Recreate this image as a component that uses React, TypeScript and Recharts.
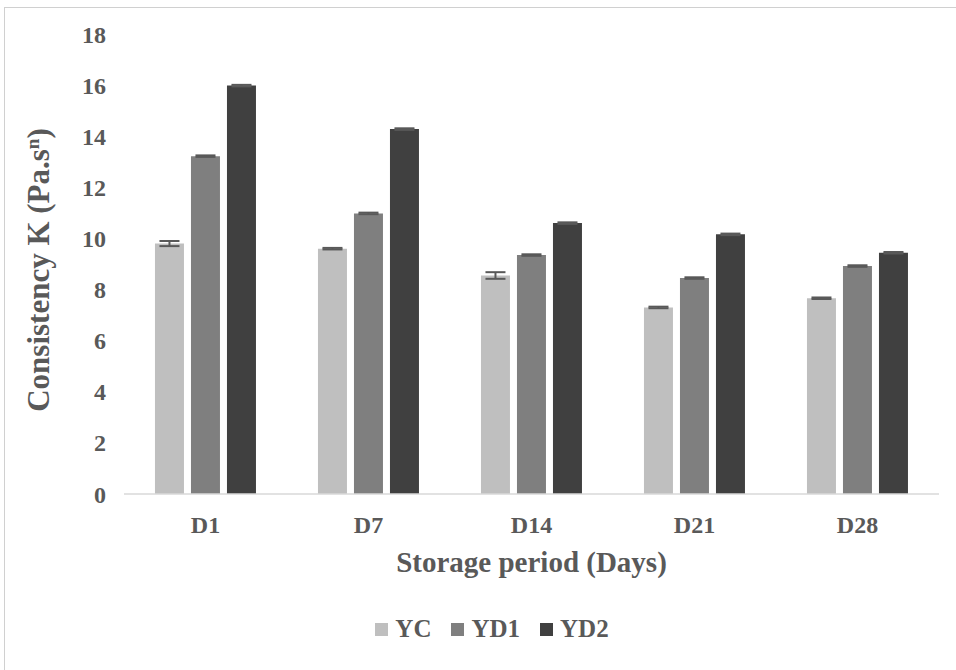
import React from "react";
import { BarChart, Bar, XAxis, YAxis, Legend, ErrorBar } from "recharts";

const categories = ["D1", "D7", "D14", "D21", "D28"];
const yc = [9.8, 9.6, 8.55, 7.3, 7.66];
const yd1 = [13.22, 10.98, 9.35, 8.45, 8.92];
const yd2 = [15.98, 14.28, 10.6, 10.16, 9.44];
const ycErr = [0.1, 0.03, 0.13, 0.03, 0.03];
const yd1Err = [0.03, 0.03, 0.03, 0.03, 0.03];
const yd2Err = [0.03, 0.03, 0.03, 0.03, 0.03];
const yTicks = [0, 2, 4, 6, 8, 10, 12, 14, 16, 18];

const series = [
  { key: "YC", color: "#bfbfbf" },
  { key: "YD1", color: "#7f7f7f" },
  { key: "YD2", color: "#404040" },
];

const data = categories.map((c, i) => ({
  name: c,
  YC: yc[i],
  YD1: yd1[i],
  YD2: yd2[i],
  YCerr: ycErr[i],
  YD1err: yd1Err[i],
  YD2err: yd2Err[i],
}));

const FONT = '"Liberation Serif", "Times New Roman", serif';
const TEXT = "#595959";

function LegendContent() {
  return (
    <div
      style={{
        display: "flex",
        justifyContent: "center",
        alignItems: "center",
        gap: 20,
        paddingLeft: 28,
        fontFamily: FONT,
        fontWeight: "bold",
        fontSize: 25,
        color: TEXT,
      }}
    >
      {series.map((s) => (
        <div key={s.key} style={{ display: "flex", alignItems: "center", gap: 7 }}>
          <span style={{ width: 13, height: 13, background: s.color, display: "inline-block" }} />
          <span>{s.key}</span>
        </div>
      ))}
    </div>
  );
}

export default function App() {
  return (
    <div style={{ position: "absolute", top: 0, left: 0, width: 956, height: 670, background: "#fff", overflow: "hidden" }}>
      {/* frame, only top and left edges show in the picture */}
      <div
        style={{
          position: "absolute",
          left: 4,
          top: 7,
          width: 1000,
          height: 700,
          borderTop: "1px solid #d0d0d0",
          borderLeft: "1px solid #d0d0d0",
        }}
      />
      <BarChart
        width={956}
        height={670}
        data={data}
        margin={{ top: 34, right: 17, bottom: 0, left: 0 }}
        barCategoryGap="19%"
        barGap={7}
        style={{ position: "absolute", top: 0, left: 0 }}
      >
        <XAxis
          dataKey="name"
          height={176}
          axisLine={{ stroke: "#d9d9d9", strokeWidth: 1.5 }}
          tickLine={false}
          tickMargin={16}
          tick={{ fill: TEXT, fontSize: 24, fontWeight: "bold", fontFamily: FONT }}
          label={{
            value: "Storage period (Days)",
            position: "insideTop",
            offset: 57,
            fill: TEXT,
            fontSize: 29,
            fontWeight: "bold",
            fontFamily: FONT,
          }}
        />
        <YAxis
          width={124}
          domain={[0, 18]}
          ticks={yTicks}
          interval={0}
          axisLine={false}
          tickLine={false}
          tickMargin={12}
          tick={{ fill: TEXT, fontSize: 24, fontWeight: "bold", fontFamily: FONT }}
          label={() => (
            <text
              x={0}
              y={0}
              transform="translate(49, 270) rotate(-90)"
              textAnchor="middle"
              fill={TEXT}
              fontSize={31}
              fontWeight="bold"
              fontFamily={FONT}
            >
              Consistency K (Pa.s
              <tspan dy={-10} fontSize={19}>n</tspan>
              <tspan dy={10}>)</tspan>
            </text>
          )}
        />
        <Legend verticalAlign="middle" wrapperStyle={{ top: 615, left: 0, width: 956 }} content={<LegendContent />} />
        {series.map((s) => (
          <Bar key={s.key} dataKey={s.key} fill={s.color} isAnimationActive={false}>
            <ErrorBar dataKey={`${s.key}err`} width={10} stroke="#595959" strokeWidth={2} />
          </Bar>
        ))}
      </BarChart>
    </div>
  );
}
